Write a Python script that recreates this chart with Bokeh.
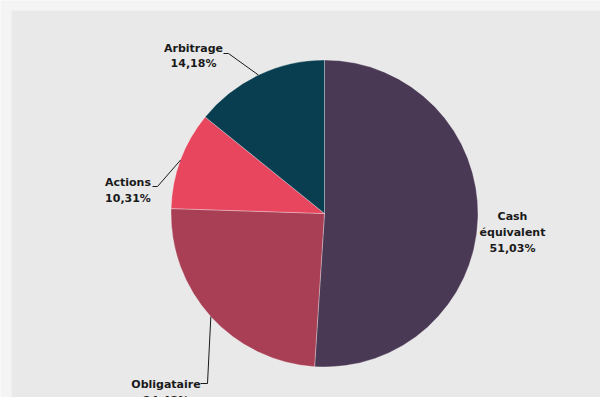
import math
from bokeh.plotting import figure
from bokeh.models import Range1d, ColumnDataSource
from bokeh.core.properties import value
from bokeh.embed import file_html
from bokeh.resources import INLINE

# ---- data ----
categories = ["Cash\néquivalent", "Obligataire", "Actions", "Arbitrage"]
shares = [51.03, 24.48, 10.31, 14.18]
pct_labels = ["51,03%", "24,48%", "10,31%", "14,18%"]
colors = ["#4a3955", "#a83f55", "#e7465e", "#083e50"]

# ---- layout (pixel coords, y measured from top) ----
W, H = 600, 397
cx, cy_img, R = 324, 213, 153.5
label_centers = [(512, 232), (165.5, 392), (127.5, 190), (193, 55.5)]
label_elbows = [None, [(207, 383), (200, 383)], [(157, 186), (152, 186)], [(228, 53), (223, 53)]]

p = figure(width=W, height=H, output_backend="svg", toolbar_location=None,
           x_range=Range1d(0, W), y_range=Range1d(0, H), min_border=0)
p.axis.visible = False
p.grid.visible = False
p.outline_line_color = None
p.background_fill_color = "#f4f4f4"
p.border_fill_color = "#f4f4f4"

# panel
p.quad(left=11, right=W, bottom=0, top=H - 10, fill_color="#e9e9e9", line_color=None)

total = sum(shares)
starts, ends, mids = [], [], []
cum = 0.0
for s in shares:
    a0 = math.pi / 2 - 2 * math.pi * cum / total
    cum += s
    a1 = math.pi / 2 - 2 * math.pi * cum / total
    starts.append(a0)
    ends.append(a1)
    mids.append((a0 + a1) / 2)

cy = H - cy_img
src = ColumnDataSource(dict(start=starts, end=ends, color=colors))
p.wedge(x=cx, y=cy, radius=R, start_angle="start", end_angle="end", direction="clock",
        fill_color="color", line_color="#ffffff", line_alpha=0.3, line_width=1, source=src)

# connectors
for m, elbow in zip(mids, label_elbows):
    if elbow is None:
        continue
    xs = [cx + R * math.cos(m)] + [e[0] for e in elbow]
    ys = [cy + R * math.sin(m)] + [H - e[1] for e in elbow]
    p.line(xs, ys, line_color="#1a1a1a", line_width=1)

# labels
texts = [c + "\n" + v for c, v in zip(categories, pct_labels)]
p.text(x=[c[0] for c in label_centers], y=[H - c[1] for c in label_centers], text=texts,
       text_font=value("DejaVu Sans"), text_font_style="bold", text_font_size="11px",
       text_align="center", text_baseline="middle", text_line_height=1.2,
       text_color="#1a1a1a")

open("out.html", "w").write(file_html(p, INLINE))
